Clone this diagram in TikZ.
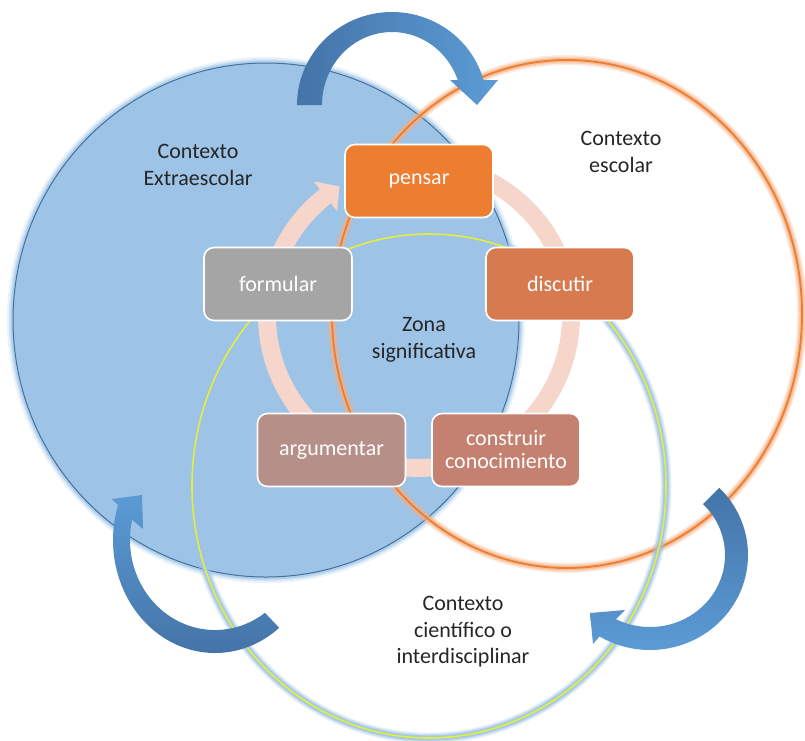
\documentclass[tikz,border=0pt]{standalone}
\usepackage{fontspec}
\setmainfont{Carlito}
\definecolor{bluefill}{HTML}{9DC3E6}
\definecolor{blueedge}{HTML}{41719C}
\definecolor{blueglow}{HTML}{9DC3E6}
\definecolor{orangeline}{HTML}{ED7D31}
\definecolor{orangeglow}{HTML}{F4B183}
\definecolor{sciline}{HTML}{E4EE3C}
\definecolor{ringpink}{HTML}{F6D6CB}
\definecolor{arrowdark}{HTML}{4474A8}
\definecolor{arrowlight}{HTML}{5B9BD5}
\definecolor{stageA}{HTML}{ED7D31}
\definecolor{stageB}{HTML}{D77A4F}
\definecolor{stageC}{HTML}{C58170}
\definecolor{stageD}{HTML}{B58F88}
\definecolor{stageE}{HTML}{A5A5A5}
\definecolor{labelgray}{HTML}{262626}
\begin{document}
\begin{tikzpicture}[x=1pt,y=-1pt,
  ctxlabel/.style={font=\fontsize{22}{26.5}\selectfont, text=labelgray, align=center, inner sep=0pt},
  stage/.style={rounded corners=10pt, minimum width=148pt, minimum height=73pt,
    draw=white, line width=1.6pt, text=white, align=center, inner sep=0pt,
    font=\fontsize{22}{23}\selectfont},
  bigarrow/.style={draw=none}
]
\useasboundingbox (0,0) rectangle (805,740);

% extra-school context: filled disc with a soft halo
\foreach \w/\o in {12/0.2, 8/0.35, 5/0.6}
  \draw[blueglow, line width=\w pt, opacity=\o] (266,320) ellipse[x radius=253pt, y radius=257pt];
\fill[bluefill] (266,320) ellipse[x radius=253pt, y radius=257pt];
\draw[blueedge, line width=1pt] (266,320) ellipse[x radius=253pt, y radius=257pt];

% school context: orange outline
\foreach \w/\o in {10/0.25, 7/0.4, 4.5/0.6}
  \draw[orangeglow, line width=\w pt, opacity=\o] (567,314) ellipse[x radius=235pt, y radius=254pt];
\draw[orangeline, line width=1.8pt] (567,314) ellipse[x radius=235pt, y radius=254pt];

% scientific context: yellow outline with blue halo
\foreach \w/\o in {11/0.25, 8/0.45, 5/0.8}
  \draw[blueglow, line width=\w pt, opacity=\o] (429,486) ellipse[x radius=237pt, y radius=252pt];
\draw[sciline, line width=1.6pt] (429,486) ellipse[x radius=237pt, y radius=252pt];

% curved arrows between the contexts
\shade[bigarrow, left color=arrowdark, right color=arrowlight]
  plot[domain=180:15.6, samples=60] ({392+95*cos(\x)},{105-93*sin(\x)})
  -- (498,80) -- (477,105) -- (450,80)
  -- plot[domain=20:180, samples=60] ({392+70*cos(\x)},{105-73*sin(\x)}) -- cycle;

\shade[bigarrow, top color=arrowlight, bottom color=arrowdark]
  plot[domain=-51:-198, samples=80] ({215+102*cos(\x)},{540-113*sin(\x)})
  -- (112,499) -- (142,495) -- (143,529)
  -- plot[domain=-193:-54, samples=80] ({215+85*cos(\x)},{540-90*sin(\x)}) -- cycle;

\shade[bigarrow, top color=arrowdark, bottom color=arrowlight]
  plot[domain=45:-121, samples=80] ({650+98*cos(\x)},{555-95*sin(\x)})
  -- (593,644) -- (590,613) -- (625,610)
  -- plot[domain=-117:45, samples=80] ({650+75*cos(\x)},{555-72*sin(\x)}) -- cycle;

% continuous cycle ring behind the stages
\draw[ringpink, line width=18pt] plot[domain=-232:85, samples=150] ({419+152*cos(\x)},{316-152*sin(\x)});
\fill[ringpink] (313.7,181.3) -- (339.6,186.4) -- (337.1,211.2) -- cycle;

% stages of the cycle
\node[stage, fill=stageA] (pensar) at (419,181) {pensar};
\node[stage, fill=stageB] (discutir) at (560,284) {discutir};
\node[stage, fill=stageC] (construir) at (506,450) {construir\\conocimiento};
\node[stage, fill=stageD] (argumentar) at (331.5,450) {argumentar};
\node[stage, fill=stageE] (formular) at (278,284) {formular};

% context labels
\node[ctxlabel] (extra) at (198,165) {Contexto\\Extraescolar};
\node[ctxlabel] (escolar) at (621,152) {Contexto\\escolar};
\node[ctxlabel] (zona) at (424,340) {Zona\\significativa};
\node[ctxlabel] (cientifico) at (463,632) {Contexto\\científico o\\interdisciplinar};
\end{tikzpicture}
\end{document}
